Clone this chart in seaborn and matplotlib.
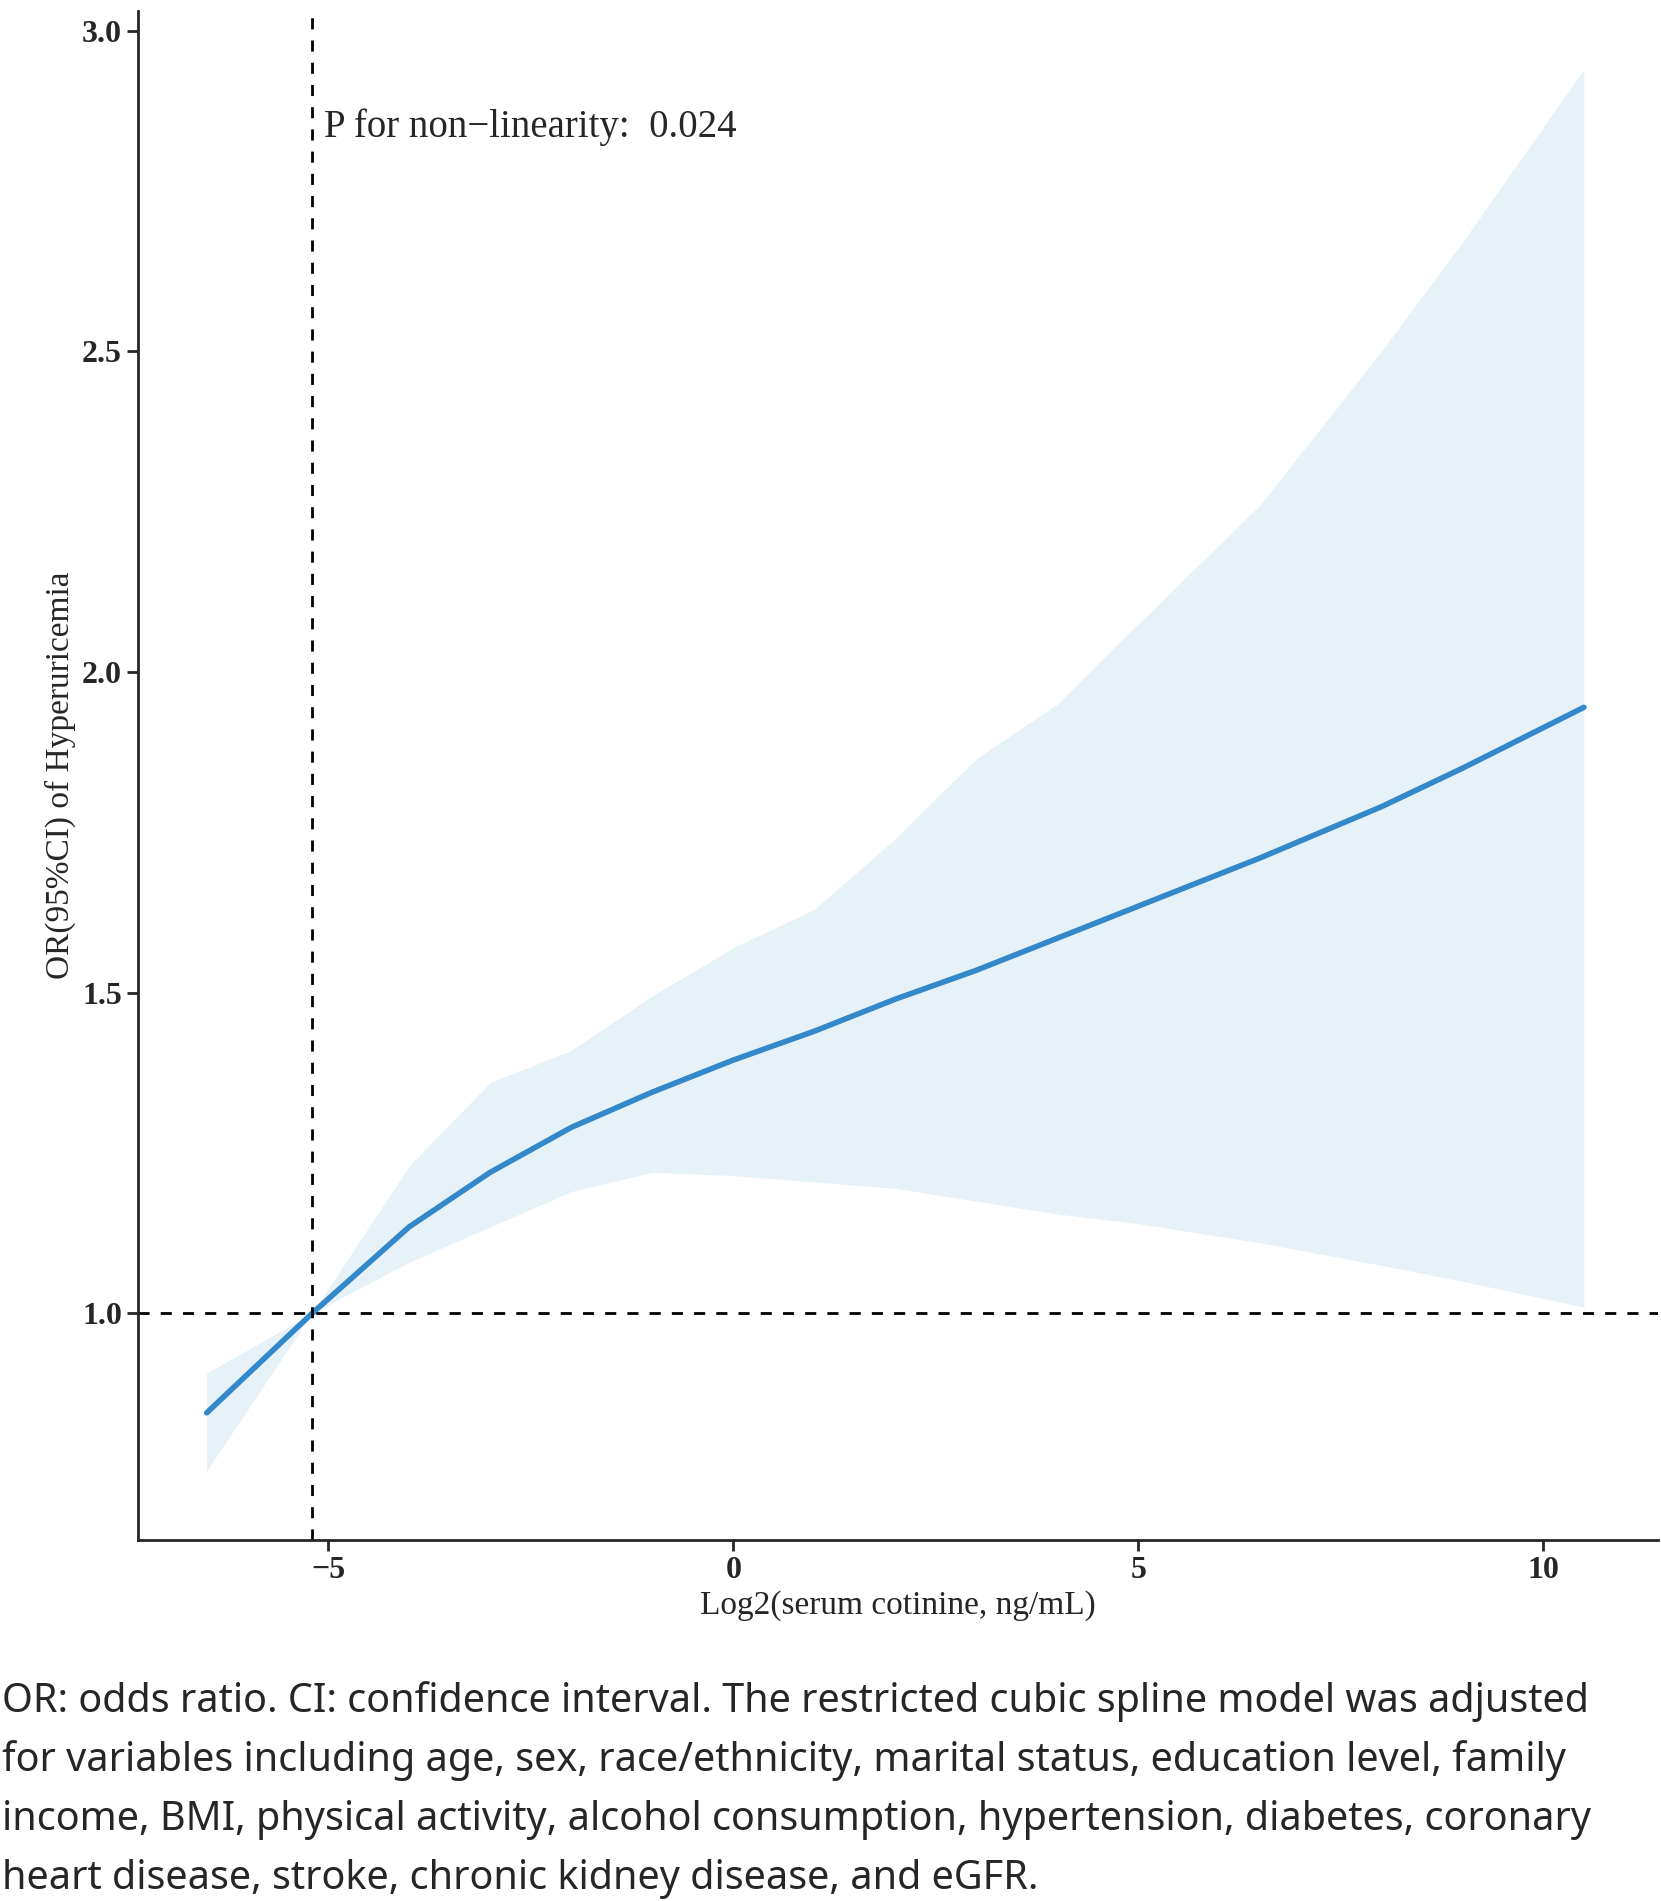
import matplotlib
matplotlib.use("Agg")
import matplotlib.pyplot as plt
import seaborn as sns
import numpy as np

# spline estimates
x_vals = [-6.5, -5.2, -4, -3, -2, -1, 0, 1, 2, 3, 4, 5, 6.5, 8, 9, 10.5]
or_vals = [0.845, 1.0, 1.135, 1.22, 1.29, 1.345, 1.395, 1.44, 1.49, 1.535, 1.585, 1.635, 1.71, 1.79, 1.85, 1.945]
upper = [0.907, 1.0, 1.23, 1.36, 1.41, 1.495, 1.57, 1.63, 1.74, 1.865, 1.95, 2.075, 2.26, 2.5, 2.67, 2.94]
lower = [0.755, 1.0, 1.08, 1.135, 1.19, 1.22, 1.215, 1.205, 1.195, 1.175, 1.155, 1.14, 1.11, 1.075, 1.05, 1.01]
ref_x = -5.2
p_text = "P for non\u2212linearity:  0.024"
caption = ["OR: odds ratio. CI: confidence interval. The restricted cubic spline model was adjusted",
           "for variables including age, sex, race/ethnicity, marital status, education level, family",
           "income, BMI, physical activity, alcohol consumption, hypertension, diabetes, coronary",
           "heart disease, stroke, chronic kidney disease, and eGFR."]

sns.set_style("ticks")
plt.rcParams['font.family'] = ['Liberation Serif', 'DejaVu Serif']

fig = plt.figure(figsize=(16.61, 19.01), dpi=100)
ax = fig.add_axes([0.083, 0.19, 0.915, 0.804])

ax.fill_between(x_vals, lower, upper, color="#e6f1f8", linewidth=0)
sns.lineplot(x=x_vals, y=or_vals, ax=ax, color="#3388c9", linewidth=4)
ax.axhline(1.0, color="black", linestyle=(0, (4, 4)), linewidth=2)
ax.axvline(ref_x, color="black", linestyle=(0, (4, 4)), linewidth=2)

ax.set_xlim(-7.35, 11.41)
ax.set_ylim(0.647, 3.03)
ax.set_xticks([-5, 0, 5, 10])
ax.set_xticklabels(["\u22125", "0", "5", "10"])
ax.set_yticks([1.0, 1.5, 2.0, 2.5, 3.0])
ax.set_yticklabels(["1.0", "1.5", "2.0", "2.5", "3.0"])
ax.tick_params(labelsize=23, width=2, length=8)
for lab in ax.get_xticklabels() + ax.get_yticklabels():
    lab.set_fontweight("bold")
for s in ["left", "bottom"]:
    ax.spines[s].set_linewidth(2)
sns.despine(ax=ax)

ax.set_xlabel("Log2(serum cotinine, ng/mL)", fontsize=24)
ax.set_ylabel("OR(95%CI) of Hyperuricemia", fontsize=24)
ax.text(ref_x + 0.15, 2.85, p_text, fontsize=28, va="center")

for i, line in enumerate(caption):
    fig.text(0.001, 0.105 - i * 0.0312, line, fontsize=28.5, family="Noto Sans", va="center")

fig.savefig("out.png", dpi=100)
